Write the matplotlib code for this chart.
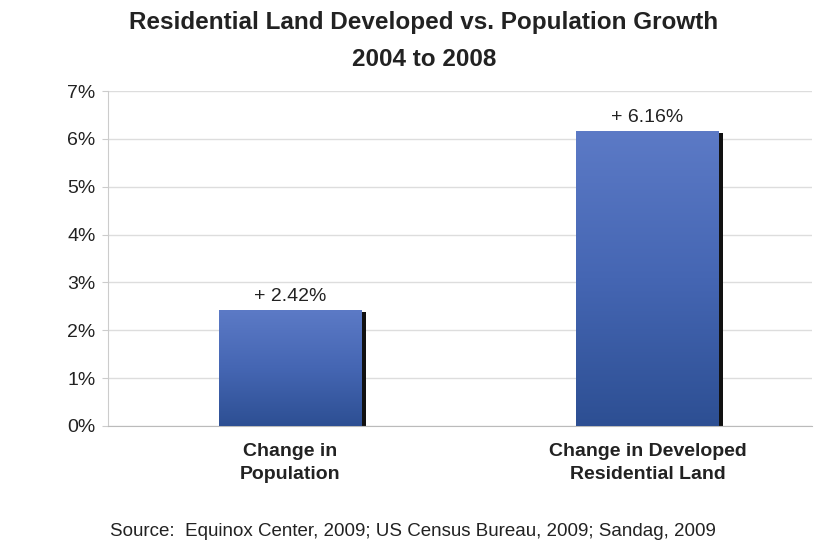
import matplotlib.pyplot as plt
import numpy as np

plt.rcParams['font.family'] = ['Liberation Sans', 'DejaVu Sans']

categories = ['Change in\nPopulation', 'Change in Developed\nResidential Land']
values = [2.42, 6.16]
labels = ['+ 2.42%', '+ 6.16%']
yticks = [0, 1, 2, 3, 4, 5, 6, 7]

fig = plt.figure(figsize=(8.15, 5.41), dpi=100)
ax = fig.add_axes([108 / 815, 115 / 541, 704 / 815, 335 / 541])

x = np.arange(len(values))
w = 0.40

# shadow
ax.bar(x + 0.012, values, width=w, bottom=-0.04, color='#111111', zorder=2)
bars = ax.bar(x, values, width=w, color='none', zorder=3)

# gradient fill
grad = np.linspace(0, 1, 256).reshape(-1, 1)
cmap = plt.matplotlib.colors.LinearSegmentedColormap.from_list('b', ['#2d4f93', '#4566b3', '#5c7ac6'])
for b in bars:
    x0, y0 = b.get_x(), b.get_y()
    im = ax.imshow(grad, cmap=cmap, origin='lower', aspect='auto',
                   extent=[x0, x0 + b.get_width(), y0, y0 + b.get_height()], zorder=3)
    im.set_clip_path(b)

for xi, v, t in zip(x, values, labels):
    ax.text(xi, v + 0.1, t, ha='center', va='bottom', fontsize=14, color='#222222')

ax.set_xlim(-0.51, 1.46)
ax.set_ylim(0, 7)
ax.set_yticks(yticks)
ax.set_yticklabels([f'{t}%' for t in yticks], fontsize=14, color='#222222')
ax.set_xticks(x)
ax.set_xticklabels(categories, fontsize=14, fontweight='bold', color='#222222', linespacing=1.45)
ax.tick_params(axis='x', length=0, pad=12)
ax.tick_params(axis='y', length=4, color='#cccccc', pad=5)
ax.yaxis.grid(True, color='#dddddd', linewidth=1)
ax.set_axisbelow(True)
for s in ['top', 'right']:
    ax.spines[s].set_visible(False)
ax.spines['left'].set_color('#cccccc')
ax.spines['bottom'].set_color('#bbbbbb')

fig.text(424 / 815, 1 - 22 / 541, 'Residential Land Developed vs. Population Growth',
         ha='center', va='center', fontsize=17.5, fontweight='bold', color='#222222')
fig.text(424 / 815, 1 - 59 / 541, '2004 to 2008',
         ha='center', va='center', fontsize=17.5, fontweight='bold', color='#222222')
fig.text(110 / 815, 1 - 531 / 541, 'Source:  Equinox Center, 2009; US Census Bureau, 2009; Sandag, 2009',
         ha='left', va='center', fontsize=13.5, color='#222222')

fig.savefig('out.png', dpi=100)
